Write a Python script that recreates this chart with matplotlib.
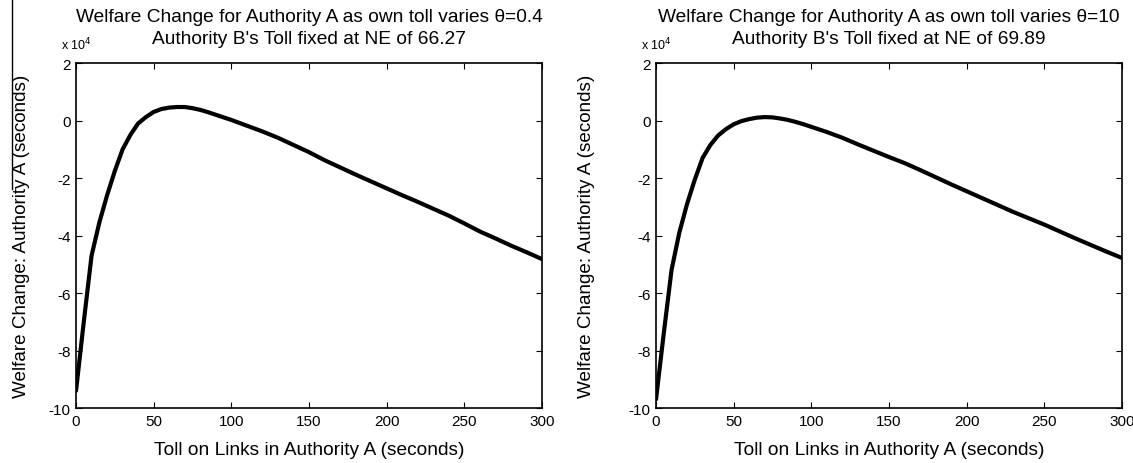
import matplotlib
matplotlib.use('Agg')
import matplotlib.pyplot as plt
from matplotlib.ticker import FuncFormatter

plt.rcParams['font.family'] = ['Liberation Sans', 'DejaVu Sans']

# toll on links in authority A (seconds)
toll = [0, 5, 10, 15, 20, 25, 30, 35, 40, 45, 50, 55, 60, 65, 70, 75, 80, 85, 90, 95, 100,
        110, 120, 130, 140, 150, 160, 170, 180, 190, 200, 210, 220, 230, 240, 250,
        260, 270, 280, 290, 300]

# welfare change, units of 1e4 seconds
welfare_a = [-9.4, -7.0, -4.7, -3.55, -2.6, -1.75, -1.0, -0.5, -0.1, 0.12, 0.3, 0.4, 0.45,
             0.47, 0.47, 0.43, 0.37, 0.29, 0.2, 0.11, 0.02,
             -0.18, -0.38, -0.6, -0.85, -1.1, -1.38, -1.63, -1.88, -2.12, -2.36,
             -2.6, -2.83, -3.07, -3.31, -3.58, -3.86, -4.1, -4.35, -4.58, -4.82]
welfare_b = [-9.7, -7.4, -5.2, -3.9, -2.9, -2.05, -1.3, -0.85, -0.52, -0.3, -0.13, -0.02, 0.05,
             0.1, 0.12, 0.11, 0.07, 0.02, -0.05, -0.13, -0.22,
             -0.4, -0.6, -0.83, -1.05, -1.27, -1.48, -1.72, -1.97, -2.22, -2.46,
             -2.7, -2.94, -3.18, -3.4, -3.62, -3.86, -4.1, -4.33, -4.56, -4.78]

title_top = ["Welfare Change for Authority A as own toll varies \u03b8=0.4",
             "Welfare Change for Authority A as own toll varies \u03b8=10"]
title_bottom = ["Authority B's Toll fixed at NE of 66.27",
                "Authority B's Toll fixed at NE of 69.89"]

fig = plt.figure(figsize=(11.33, 4.64), dpi=100)
ax1 = fig.add_axes([0.0671, 0.1185, 0.4113, 0.7435])
ax2 = fig.add_axes([0.579, 0.1185, 0.4113, 0.7435])

for ax, w, t1, t2, ylx in zip([ax1, ax2], [welfare_a, welfare_b], title_top, title_bottom,
                              [-0.098, -0.13]):
    ax.plot(toll, [v * 1e4 for v in w], color='black', linewidth=3, solid_capstyle='round')
    ax.set_xlim(0, 300)
    ax.set_ylim(-1e5, 2e4)
    ax.set_xticks(range(0, 301, 50))
    ax.set_yticks([v * 1e4 for v in range(-10, 3, 2)])
    ax.yaxis.set_major_formatter(FuncFormatter(lambda v, p: f'{v / 1e4:.0f}'))
    ax.tick_params(direction='in', top=True, right=True, labelsize=11, length=4, pad=4)
    for s in ax.spines.values():
        s.set_linewidth(1.2)
    ax.set_xlabel('Toll on Links in Authority A (seconds)', fontsize=13.8)
    ax.xaxis.set_label_coords(0.5, -0.095)
    ax.set_ylabel('Welfare Change: Authority A (seconds)', fontsize=13.6)
    ax.yaxis.set_label_coords(ylx, 0.5)
    ax.text(0.5, 1.136, t1, transform=ax.transAxes, fontsize=13.8, ha='center', va='center')
    ax.text(0.5, 1.07, t2, transform=ax.transAxes, fontsize=13.8, ha='center', va='center')
    ax.text(-0.032, 1.03, r'x 10$^4$', transform=ax.transAxes, fontsize=9, ha='left', va='bottom')

# scanning edge artifact at the top left
fig.add_artist(plt.Line2D([12 / 1133, 12 / 1133], [1.0, 1 - 190 / 464], color='black', linewidth=1))

fig.savefig('out.png', dpi=100)
